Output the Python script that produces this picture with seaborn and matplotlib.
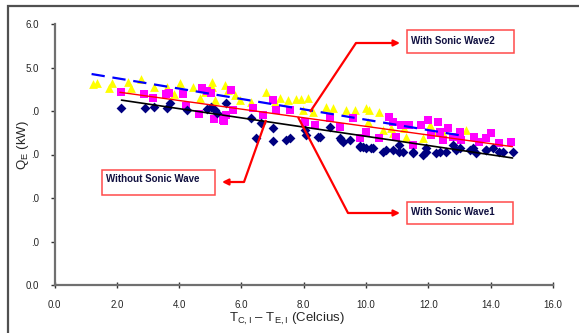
import numpy as np
import pandas as pd
import matplotlib
matplotlib.use("Agg")
import matplotlib.pyplot as plt
import seaborn as sns
from matplotlib.patches import Rectangle, FancyArrowPatch
from matplotlib.lines import Line2D

# ---------------- data ----------------
x_without = [2.15, 2.90, 3.19, 3.62, 3.70, 4.24, 4.90, 5.02, 5.14, 5.20, 5.52,
             6.32, 6.64, 7.01, 6.48, 7.01, 7.44, 7.55, 8.08, 8.51, 9.15, 9.26,
             9.47, 9.79, 10.01, 9.90, 10.22, 10.54, 10.86, 11.18, 11.50, 11.82,
             11.93, 12.25, 12.57, 12.78, 13.00, 13.32, 13.53, 13.85, 14.06,
             14.38, 14.71, 11.07, 9.20, 9.79, 10.17, 10.65, 11.07, 11.50, 11.93,
             12.36, 12.89, 13.42, 13.85, 14.28, 8.03, 8.46, 8.83]
y_without = [4.08, 4.08, 4.10, 4.08, 4.18, 4.02, 4.04, 4.10, 4.02, 3.95, 4.18,
             3.83, 3.72, 3.60, 3.39, 3.32, 3.33, 3.37, 3.45, 3.41, 3.37, 3.29,
             3.33, 3.20, 3.14, 3.18, 3.14, 3.06, 3.10, 3.06, 3.03, 2.99,
             3.14, 3.03, 3.06, 3.22, 3.14, 3.10, 3.03, 3.10, 3.14,
             3.06, 3.06, 3.22, 3.33, 3.18, 3.14, 3.10, 3.06, 3.06, 3.06,
             3.06, 3.10, 3.14, 3.10, 3.06, 3.56, 3.41, 3.64]

x_wave1 = [2.13, 2.88, 3.17, 3.57, 3.68, 4.11, 4.21, 4.64, 4.75, 4.90, 5.02,
           5.11, 5.43, 5.52, 5.68, 5.41, 5.73, 6.37, 6.69, 7.01, 7.12, 7.55,
           8.03, 8.35, 8.83, 9.15, 9.58, 9.79, 10.01, 10.01, 10.75, 10.86,
           10.97, 11.13, 11.39, 11.50, 11.77, 11.98, 12.09, 12.30, 12.36,
           12.46, 12.62, 12.78, 13.00, 13.05, 13.48, 13.64, 13.85, 14.01,
           14.28, 14.65, 10.43]
y_wave1 = [4.44, 4.38, 4.31, 4.38, 4.42, 4.38, 4.11, 3.92, 4.52, 4.47, 4.41,
           3.81, 3.77, 3.91, 4.48, 3.79, 4.02, 4.06, 3.91, 4.25, 4.02, 4.02,
           3.75, 3.68, 3.83, 3.64, 3.83, 3.37, 3.52, 3.49, 3.87, 3.75,
           3.41, 3.68, 3.68, 3.22, 3.68, 3.79, 3.45, 3.75, 3.52,
           3.33, 3.60, 3.41, 3.52, 3.33, 3.41, 3.29, 3.37, 3.49,
           3.26, 3.29, 3.37]

x_wave2 = [1.24, 1.35, 1.76, 1.85, 2.37, 2.47, 2.79, 3.19, 3.62, 3.83, 4.02,
           4.45, 4.66, 4.82, 5.07, 5.07, 5.14, 5.46, 5.57, 5.79, 5.95, 6.32,
           6.80, 7.07, 7.23, 7.49, 7.76, 7.92, 8.13, 7.97, 8.30, 8.72, 8.94,
           9.37, 9.63, 10.01, 10.11, 10.43, 10.06, 10.54, 10.81, 10.86, 11.23,
           11.29, 11.82, 12.04, 12.14, 12.46, 13.00, 13.21]
y_wave2 = [4.62, 4.65, 4.52, 4.65, 4.67, 4.52, 4.73, 4.56, 4.56, 4.38, 4.64,
           4.56, 4.29, 4.44, 4.67, 4.56, 4.25, 4.60, 4.48, 4.37, 4.25, 4.21,
           4.44, 4.21, 4.29, 4.25, 4.27, 4.27, 4.29, 4.02, 3.98, 4.10, 4.06,
           4.02, 4.02, 4.06, 4.02, 3.98, 3.75, 3.56, 3.60, 3.49, 3.60,
           3.41, 3.37, 3.68, 3.52, 3.49, 3.41, 3.56]

# linear trend lines (end points)
trend_without_x = [2.15, 14.70]
trend_without_y = [4.25, 2.92]
trend_wave1_x = [2.10, 14.70]
trend_wave1_y = [4.43, 3.18]
trend_wave2_x = [1.19, 13.10]
trend_wave2_y = [4.85, 3.43]

x_ticks = [0, 2, 4, 6, 8, 10, 12, 14, 16]
x_tick_labels = ["0.0", "2.0", "4.0", "6.0", "8.0", "10.0", "12.0", "14.0", "16.0"]
y_ticks = [0, 1, 2, 3, 4, 5, 6]
y_tick_labels = ["0.0", ".0", ".0", ".0", ".0", "5.0", "6.0"]

series_names = ["Without Sonic Wave", "With Sonic Wave1", "With Sonic Wave2"]

# ---------------- styling ----------------
sns.set_theme(style="white")
plt.rcParams["font.family"] = ["Liberation Sans", "DejaVu Sans"]
plt.rcParams["mathtext.fontset"] = "custom"
plt.rcParams["mathtext.rm"] = "Liberation Sans"

W, H = 579, 333
fig = plt.figure(figsize=(W / 100, H / 100), dpi=100)
fig.patch.set_facecolor("white")


def fx(px):
    return px / W


def fy(py):
    return 1 - py / H


x0, x1, y0, y1 = 54.5, 553.0, 285.0, 24.0
ax = fig.add_axes([fx(x0), fy(y0), fx(x1) - fx(x0), fy(y1) - fy(y0)])

df = pd.concat([
    pd.DataFrame({"x": x_without, "y": y_without, "s": series_names[0]}),
    pd.DataFrame({"x": x_wave1, "y": y_wave1, "s": series_names[1]}),
    pd.DataFrame({"x": x_wave2, "y": y_wave2, "s": series_names[2]}),
], ignore_index=True)

sns.scatterplot(data=df[df.s == series_names[2]], x="x", y="y", marker="^",
                color="#ffff00", s=40, linewidth=0, ax=ax, legend=False, zorder=2)
sns.scatterplot(data=df[df.s == series_names[1]], x="x", y="y", marker="s",
                color="#ff00ff", s=27, linewidth=0, ax=ax, legend=False, zorder=3)
sns.scatterplot(data=df[df.s == series_names[0]], x="x", y="y", marker="D",
                color="#000080", s=25, linewidth=0, ax=ax, legend=False, zorder=4)

sns.lineplot(x=trend_wave2_x, y=trend_wave2_y, color="#0000ff", lw=1.6, ax=ax,
             zorder=5, dashes=False).lines[-1].set_dashes([6, 3.5])
sns.lineplot(x=trend_wave1_x, y=trend_wave1_y, color="#ff0000", lw=1.0, ax=ax, zorder=5)
sns.lineplot(x=trend_without_x, y=trend_without_y, color="#000000", lw=1.2, ax=ax, zorder=5)

ax.set_xlim(0, 16)
ax.set_ylim(0, 6)
ax.set_xticks(x_ticks)
ax.set_xticklabels(x_tick_labels)
ax.set_yticks(y_ticks)
ax.set_yticklabels(y_tick_labels)
for side in ["top", "right"]:
    ax.spines[side].set_visible(False)
for side in ["left", "bottom"]:
    ax.spines[side].set_color("#707070")
    ax.spines[side].set_linewidth(1.6)
ax.tick_params(axis="x", direction="inout", length=4, width=1, color="#333333",
               labelsize=7, pad=9, bottom=True)
ax.tick_params(axis="y", direction="out", length=3, width=1, color="#333333",
               labelsize=7, pad=8, left=True)

ax.set_xlabel(r"T$_{\mathregular{C,I}}$ – T$_{\mathregular{E,I}}$ (Celcius)", fontsize=9.5)
ax.xaxis.set_label_coords((287 - x0) / (x1 - x0), (y0 - 311) / (y0 - y1))
ax.set_ylabel(r"Q$_{\mathregular{E}}$ (kW)", fontsize=9.5)
ax.yaxis.set_label_coords((31 - x0) / (x1 - x0), (y0 - 145) / (y0 - y1))

# outer frame
fig.add_artist(Rectangle((fx(8), fy(700)), 1.5, fy(6) - fy(700), transform=fig.transFigure,
                         fill=False, edgecolor="#505050", linewidth=1.6, clip_on=False))

# annotation boxes
boxes = [
    (series_names[0], 102, 170, 215, 195, 179),
    (series_names[1], 407, 202, 513, 224, 212),
    (series_names[2], 407, 30, 514, 53, 41),
]
for label, bx0, by0, bx1, by1, ty in boxes:
    fig.add_artist(Rectangle((fx(bx0), fy(by1)), fx(bx1) - fx(bx0), fy(by0) - fy(by1),
                             transform=fig.transFigure, facecolor="white",
                             edgecolor="#ff4a4a", linewidth=1.1, zorder=10))
    fig.text(fx(bx0 + 4), fy(ty), label, fontsize=7, fontweight="bold",
             color="#101040", ha="left", va="center", zorder=11)

# arrows (polyline + arrow head)
arrows = [
    [(266, 120), (244, 182), (222, 182)],
    [(298, 117), (348, 213), (400, 213)],
    [(310, 112), (356, 43), (400, 43)],
]
for pts in arrows:
    xs = [fx(p[0]) for p in pts[:-1]]
    ys = [fy(p[1]) for p in pts[:-1]]
    fig.add_artist(Line2D(xs, ys, transform=fig.transFigure, color="#ff0000",
                          linewidth=1.6, solid_capstyle="butt", zorder=9))
    fig.add_artist(FancyArrowPatch((fx(pts[-2][0]), fy(pts[-2][1])),
                                   (fx(pts[-1][0]), fy(pts[-1][1])),
                                   transform=fig.transFigure, arrowstyle="-|>",
                                   mutation_scale=9, color="#ff0000", linewidth=1.6,
                                   shrinkA=0, shrinkB=0, zorder=9))

fig.savefig("out.png", dpi=100)
